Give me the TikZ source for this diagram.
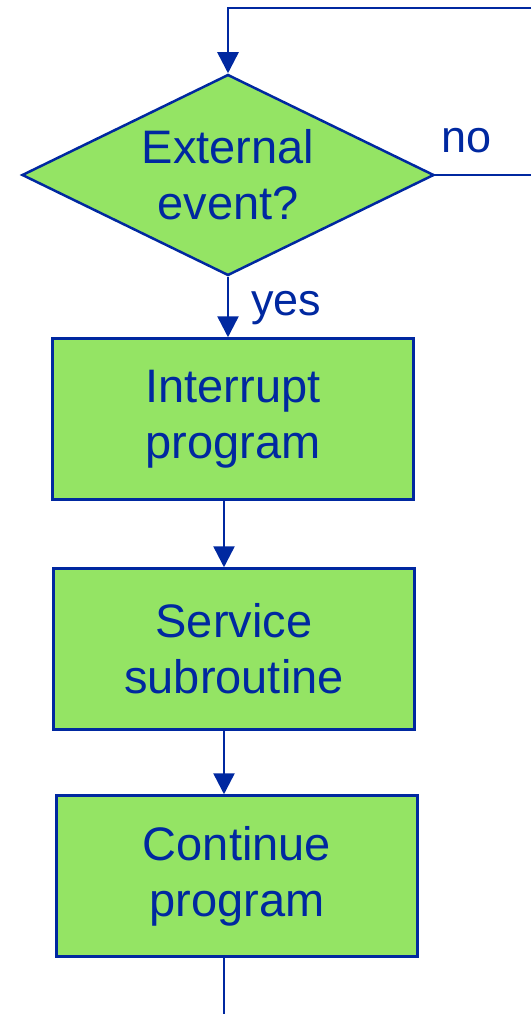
\documentclass[tikz,border=0pt]{standalone}
\usepackage{fontspec}
\setmainfont{Liberation Sans}
\usetikzlibrary{shapes.geometric,arrows.meta}
\definecolor{flowblue}{RGB}{0,40,160}
\definecolor{flowgreen}{RGB}{148,228,100}

\begin{document}
\begin{tikzpicture}[x=1pt, y=-1pt]
\tikzstyle{basic}=[draw=flowblue, fill=flowgreen, line width=2.5pt, text=flowblue, align=center, font=\fontsize{47}{56}\selectfont]
\tikzstyle{decision}=[basic, shape=diamond, shape aspect=2, inner sep=0pt, minimum width=412pt, minimum height=201pt]
\tikzstyle{stepbox}=[basic, shape=rectangle, minimum width=361pt, minimum height=161pt]
\tikzstyle{lbl}=[text=flowblue, inner sep=0pt, font=\fontsize{45}{54}\selectfont]
\tikzstyle{edgestyle}=[draw=flowblue, line width=2.5pt]
\tikzstyle{arrowstyle}=[edgestyle, -{Triangle[length=21pt, width=21pt]}]
\useasboundingbox (0,0) rectangle (531,1014);

\node[decision] (ext) at (228,175) {External\\event?};
\node[stepbox] (irq) at (233,419) {Interrupt\\program};
\node[stepbox] (isr) at (234,649) {Service\\subroutine};
\node[stepbox] (cont) at (237,876) {Continue\\program};

\coordinate (spine) at (224,0);
\coordinate (loopR) at (531,8);
\coordinate (noR) at (531,175);
\coordinate (exitB) at (224,1014);

% loop back from the right
\draw[arrowstyle] (loopR) -- (loopR -| ext.north) -- (ext.north);
\draw[edgestyle] (ext.east) -- (noR);
\node[lbl, anchor=base west] (no) at (441,153) {no};

% main flow
\draw[arrowstyle] (ext.south) -- (ext.south |- irq.north);
\node[lbl, anchor=base west] (yes) at (251,315) {yes};
\draw[arrowstyle] (irq.south -| spine) -- (isr.north -| spine);
\draw[arrowstyle] (isr.south -| spine) -- (cont.north -| spine);
\draw[edgestyle] (cont.south -| spine) -- (exitB);
\end{tikzpicture}
\end{document}
